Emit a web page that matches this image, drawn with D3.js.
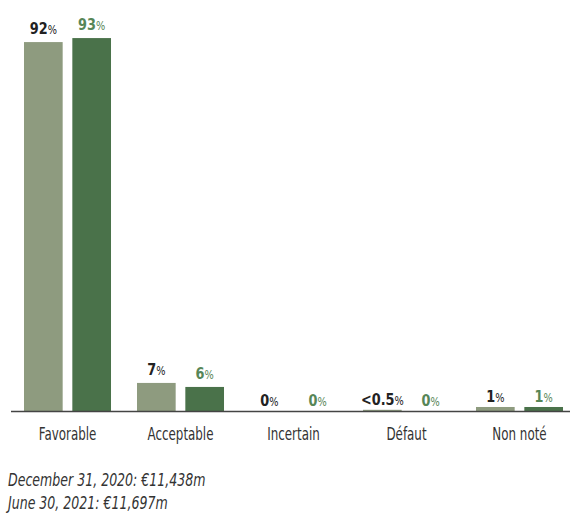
<!DOCTYPE html>
<html>
<head>
<meta charset="utf-8">
<script src="https://cdn.jsdelivr.net/npm/d3@7"></script>
<style>
  html, body { margin: 0; padding: 0; background: #fff; }
  svg { display: block; }
  text { font-family: "DejaVu Sans", sans-serif; }
</style>
</head>
<body>
<svg id="chart" width="570" height="515"></svg>
<script>
// Rating breakdown of the portfolio, two reporting dates
const categories = ["Favorable", "Acceptable", "Incertain", "Défaut", "Non noté"];
const seriesNames = ["December 31, 2020: €11,438m", "June 30, 2021: €11,697m"];
const valuesDec2020 = [92, 7, 0, 0.3, 1];
const valuesJun2021 = [93, 6, 0, 0, 1];
const labelsDec2020 = ["92", "7", "0", "<0.5", "1"];
const labelsJun2021 = ["93", "6", "0", "0", "1"];

const barColors = ["#8e9b7f", "#4a724a"];
const labelColors = ["#222222", "#578657"];

// horizontal squeeze giving a condensed look to the type
const SQ_VALUE = 0.78;
const SQ_CAT = 0.7;
const SQ_NOTE = 0.74;

const svg = d3.select("#chart");
const baseY = 411;

const x0 = d3.scaleBand().domain(categories).range([11, 576]).paddingInner(0.23).paddingOuter(0.115);
const x1 = d3.scaleBand().domain([0, 1]).range([0, x0.bandwidth()]).paddingInner(0.2);
const y = d3.scaleLinear().domain([0, 100]).range([baseY, 10]);

const series = [
  { values: valuesDec2020, labels: labelsDec2020 },
  { values: valuesJun2021, labels: labelsJun2021 }
];

series.forEach((s, si) => {
  const g = svg.append("g");
  g.selectAll("rect")
    .data(categories)
    .join("rect")
    .attr("x", (c) => x0(c) + x1(si))
    .attr("width", x1.bandwidth())
    .attr("y", (c, i) => y(s.values[i]))
    .attr("height", (c, i) => baseY - y(s.values[i]))
    .attr("fill", barColors[si]);

  const t = g.selectAll("text")
    .data(categories)
    .join("text")
    .attr("transform", (c, i) => {
      const tx = x0(c) + x1(si) + x1.bandwidth() / 2;
      const ty = y(s.values[i]) - (s.values[i] < 2 ? 5 : 8);
      return `translate(${tx},${ty}) scale(${SQ_VALUE},1)`;
    })
    .attr("text-anchor", "middle")
    .attr("fill", labelColors[si]);
  t.append("tspan")
    .attr("font-size", 16.5)
    .attr("font-weight", "bold")
    .text((c, i) => s.labels[i]);
  t.append("tspan")
    .attr("font-size", 12.5)
    .text("%");
});

// category axis
const axis = svg.append("g").attr("transform", `translate(0,${baseY})`);
axis.append("line")
  .attr("x1", 11).attr("x2", 570)
  .attr("y1", 0.5).attr("y2", 0.5)
  .attr("stroke", "#444").attr("stroke-width", 1.5);
axis.selectAll("text.cat")
  .data(categories)
  .join("text")
  .attr("class", "cat")
  .attr("transform", (c) => `translate(${x0(c) + x0.bandwidth() / 2},29) scale(${SQ_CAT},1)`)
  .attr("text-anchor", "middle")
  .attr("font-size", 17)
  .attr("fill", "#333")
  .text((c) => c);

// series notes
svg.selectAll("text.note")
  .data(seriesNames)
  .join("text")
  .attr("class", "note")
  .attr("transform", (d, i) => `translate(8,${486 + i * 23}) scale(${SQ_NOTE},1)`)
  .attr("font-size", 17)
  .attr("font-style", "italic")
  .attr("fill", "#333")
  .text((d) => d);
</script>
</body>
</html>
